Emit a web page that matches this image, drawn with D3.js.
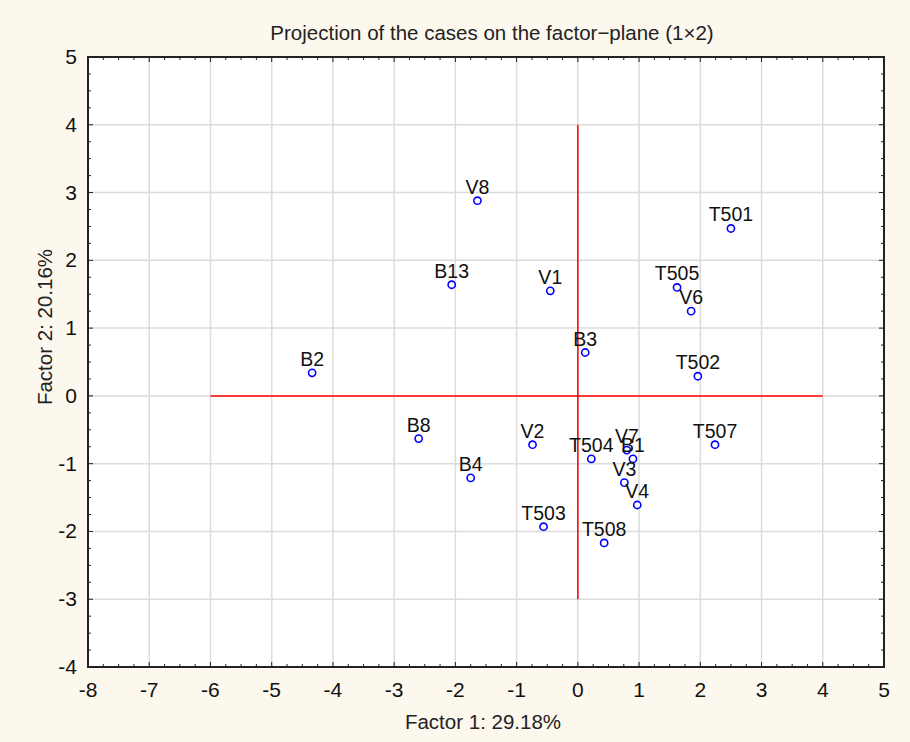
<!DOCTYPE html>
<html>
<head>
<meta charset="utf-8">
<script src="https://cdn.jsdelivr.net/npm/d3@7"></script>
<style>
	body { margin: 0; background: #fdf8ee; }
	svg { display: block; font-family: "Liberation Sans", Arial, sans-serif; }
</style>
</head>
<body>
<svg id="chart" width="910" height="742"></svg>
<script>
// case labels and their factor scores
var cases = ['V8', 'B13', 'V1', 'B3', 'B2', 'V2', 'T504', 'V7', 'B1', 'V3', 'V4', 'T503', 'T508', 'B8', 'B4', 'T501', 'T505', 'V6', 'T502', 'T507'];
var factor1 = [-1.64, -2.06, -0.45, 0.12, -4.34, -0.74, 0.22, 0.80, 0.90, 0.76, 0.97, -0.56, 0.43, -2.60, -1.75, 2.50, 1.62, 1.85, 1.96, 2.24];
var factor2 = [2.88, 1.64, 1.55, 0.64, 0.34, -0.72, -0.93, -0.80, -0.93, -1.28, -1.61, -1.93, -2.17, -0.63, -1.21, 2.47, 1.60, 1.25, 0.29, -0.72];

var xTicks = [-8, -7, -6, -5, -4, -3, -2, -1, 0, 1, 2, 3, 4, 5];
var yTicks = [-4, -3, -2, -1, 0, 1, 2, 3, 4, 5];

// red reference cross
var hLine = [-6, 4];
var vLine = [-3, 4];

var config = {
	margin: {top: 57, right: 26, bottom: 75, left: 88},
	width: 910,
	height: 742
};

var svg = d3.select('#chart'),
	m = config.margin,
	w = config.width - m.left - m.right,
	h = config.height - m.top - m.bottom;

svg.append('rect')
	.attr('width', config.width)
	.attr('height', config.height)
	.attr('fill', '#fdf8ee');

var x = d3.scaleLinear().domain([-8, 5]).range([m.left, m.left + w]);
var y = d3.scaleLinear().domain([-4, 5]).range([m.top + h, m.top]);

svg.append('rect')
	.attr('x', m.left).attr('y', m.top)
	.attr('width', w).attr('height', h)
	.attr('fill', '#ffffff');

// grid
svg.append('g').selectAll('line').data(xTicks.slice(1, -1)).enter().append('line')
	.attr('x1', function(d){ return x(d); }).attr('x2', function(d){ return x(d); })
	.attr('y1', m.top).attr('y2', m.top + h)
	.attr('stroke', '#dcdcdc').attr('stroke-width', 1.5);

svg.append('g').selectAll('line').data(yTicks.slice(1, -1)).enter().append('line')
	.attr('y1', function(d){ return y(d); }).attr('y2', function(d){ return y(d); })
	.attr('x1', m.left).attr('x2', m.left + w)
	.attr('stroke', '#dcdcdc').attr('stroke-width', 1.5);

// minor / major ticks on all four sides, pointing inwards
var xMinor = d3.range(-8, 5.001, 0.25), yMinor = d3.range(-4, 5.001, 0.25);
function isMajor(v){ return Math.abs(v - Math.round(v)) < 1e-6; }

var ticks = svg.append('g').attr('stroke', '#222').attr('stroke-width', 1);
xMinor.forEach(function(v){
	var len = isMajor(v) ? 5 : 3;
	ticks.append('line').attr('x1', x(v)).attr('x2', x(v)).attr('y1', m.top + h).attr('y2', m.top + h - len);
	ticks.append('line').attr('x1', x(v)).attr('x2', x(v)).attr('y1', m.top).attr('y2', m.top + len);
});
yMinor.forEach(function(v){
	var len = isMajor(v) ? 5 : 3;
	ticks.append('line').attr('y1', y(v)).attr('y2', y(v)).attr('x1', m.left).attr('x2', m.left + len);
	ticks.append('line').attr('y1', y(v)).attr('y2', y(v)).attr('x1', m.left + w).attr('x2', m.left + w - len);
});

// red cross
svg.append('line')
	.attr('x1', x(hLine[0])).attr('x2', x(hLine[1]))
	.attr('y1', y(0)).attr('y2', y(0))
	.attr('stroke', '#ff0000').attr('stroke-width', 1.5);
svg.append('line')
	.attr('x1', x(0)).attr('x2', x(0))
	.attr('y1', y(vLine[0])).attr('y2', y(vLine[1]))
	.attr('stroke', '#ff0000').attr('stroke-width', 1.5);

// frame
svg.append('rect')
	.attr('x', m.left).attr('y', m.top)
	.attr('width', w).attr('height', h)
	.attr('fill', 'none').attr('stroke', '#222').attr('stroke-width', 2);

// tick labels
svg.append('g').selectAll('text').data(xTicks).enter().append('text')
	.attr('x', function(d){ return x(d); })
	.attr('y', m.top + h + 30)
	.attr('text-anchor', 'middle')
	.attr('font-size', 21)
	.attr('fill', '#111')
	.text(function(d){ return d; });

svg.append('g').selectAll('text').data(yTicks).enter().append('text')
	.attr('x', m.left - 11)
	.attr('y', function(d){ return y(d) + 7; })
	.attr('text-anchor', 'end')
	.attr('font-size', 21)
	.attr('fill', '#111')
	.text(function(d){ return d; });

// titles
svg.append('text')
	.attr('x', 492).attr('y', 40)
	.attr('text-anchor', 'middle')
	.attr('font-size', 20.5)
	.attr('fill', '#222')
	.text('Projection of the cases on the factor\u2212plane (1\u00d72)');

svg.append('text')
	.attr('x', 483).attr('y', 729)
	.attr('text-anchor', 'middle')
	.attr('font-size', 20.5)
	.attr('fill', '#222')
	.text('Factor 1: 29.18%');

svg.append('text')
	.attr('transform', 'translate(52,327) rotate(-90)')
	.attr('text-anchor', 'middle')
	.attr('font-size', 20.5)
	.attr('fill', '#222')
	.text('Factor 2: 20.16%');

// points
var pts = svg.append('g').selectAll('g.case').data(cases).enter().append('g')
	.attr('class', 'case')
	.attr('transform', function(d, i){ return 'translate(' + x(factor1[i]) + ',' + y(factor2[i]) + ')'; });

pts.append('text')
	.attr('y', -7)
	.attr('text-anchor', 'middle')
	.attr('font-size', 19.5)
	.attr('fill', '#111')
	.text(function(d){ return d; });

pts.append('circle')
	.attr('r', 3.6)
	.attr('fill', '#fff')
	.attr('stroke', '#0000ff')
	.attr('stroke-width', 1.6);
</script>
</body>
</html>
